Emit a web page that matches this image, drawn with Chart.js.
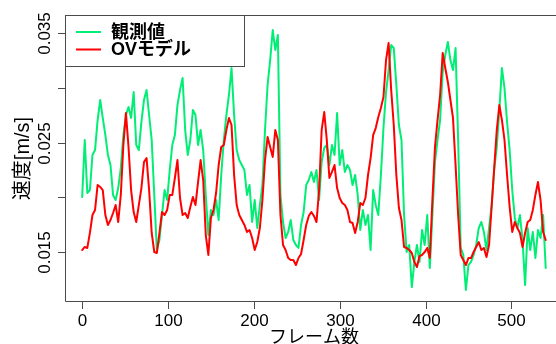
<!DOCTYPE html>
<html><head><meta charset="utf-8">
<script src="https://cdn.jsdelivr.net/npm/chart.js@4"></script>
<style>html,body{margin:0;padding:0;background:#fff;overflow:hidden}#wrap{width:556px;height:344px;position:relative}canvas{display:block}</style>
</head><body><div id="wrap"><canvas id="c" width="556" height="344"></canvas></div>
<script>
// frame numbers (category axis): every 3rd frame, 0..540
const frames = Array.from({length: 181}, (_, i) => i * 3);

// 観測値 (observed speed, m/s)
const observed = [
0.02002,0.02523,0.02039,0.02066,0.02386,0.02431,0.02705,0.02888,0.02724,0.02568,
0.02386,0.02294,0.02021,0.01975,0.02084,0.02267,0.02568,0.02751,0.02824,0.02724,
0.02961,0.02477,0.02431,0.02687,0.02888,0.02979,0.02751,0.02523,0.02021,0.01518,
0.01610,0.01838,0.02066,0.01975,0.02249,0.02477,0.02568,0.02842,0.02979,0.03089,
0.02614,0.02386,0.02523,0.02797,0.02751,0.02477,0.02614,0.02431,0.02021,0.01655,
0.01884,0.01838,0.01975,0.01792,0.02203,0.02523,0.02751,0.02934,0.03180,0.02751,
0.02431,0.02340,0.02294,0.02249,0.02021,0.02112,0.01774,0.01975,0.01719,0.01929,
0.02112,0.02614,0.03025,0.03253,0.03527,0.03345,0.03482,0.02021,0.01774,0.01628,
0.01683,0.01792,0.01610,0.01564,0.01537,0.01747,0.01865,0.02112,0.02157,0.02231,
0.02139,0.02249,0.01975,0.02322,0.02450,0.02477,0.02294,0.02477,0.02386,0.02769,
0.02294,0.02431,0.02231,0.02294,0.02249,0.02112,0.02203,0.02021,0.01701,0.01884,
0.01747,0.01838,0.01518,0.02066,0.01929,0.01838,0.02203,0.02632,0.02961,0.03162,
0.03390,0.03363,0.03025,0.02660,0.02523,0.01838,0.01500,0.01564,0.01180,0.01409,
0.01564,0.01409,0.01701,0.01564,0.01838,0.01354,0.01838,0.02322,0.02523,0.02705,
0.03144,0.03299,0.03418,0.03253,0.03162,0.03363,0.02523,0.01537,0.01473,0.01153,
0.01381,0.01409,0.01473,0.01564,0.01719,0.01774,0.01683,0.01518,0.01719,0.01929,
0.02249,0.02459,0.02797,0.03180,0.02998,0.02687,0.02431,0.02066,0.01811,0.01719,
0.01838,0.01610,0.01199,0.01719,0.01518,0.01683,0.01445,0.01701,0.01628,0.01838,
0.01354
];

// OVモデル (model speed, m/s)
const ovModel = [
0.01518,0.01546,0.01537,0.01674,0.01838,0.01884,0.02112,0.02094,0.02066,0.01838,
0.01747,0.01792,0.01856,0.01929,0.01774,0.02021,0.02477,0.02769,0.02459,0.02066,
0.01865,0.01774,0.01929,0.02084,0.02322,0.02358,0.02066,0.01674,0.01500,0.01491,
0.01674,0.01865,0.01838,0.01884,0.02021,0.02021,0.02176,0.02340,0.01993,0.01838,
0.01856,0.01811,0.01911,0.02002,0.01929,0.02139,0.02340,0.02157,0.01655,0.01473,
0.01811,0.01884,0.02039,0.02294,0.02459,0.02477,0.02614,0.02724,0.02660,0.02203,
0.01929,0.01838,0.01792,0.01747,0.01683,0.01701,0.01628,0.01518,0.01591,0.01719,
0.01975,0.02340,0.02550,0.02459,0.02368,0.02614,0.02523,0.01838,0.01564,0.01518,
0.01445,0.01427,0.01427,0.01381,0.01445,0.01482,0.01610,0.01747,0.01829,0.01865,
0.01829,0.01774,0.02066,0.02614,0.02778,0.02523,0.02176,0.02231,0.02294,0.02084,
0.01993,0.01948,0.01929,0.01884,0.01774,0.01765,0.01674,0.01774,0.01948,0.01929,
0.01993,0.02203,0.02358,0.02568,0.02632,0.02733,0.02815,0.02916,0.03253,0.03409,
0.02979,0.02660,0.02203,0.01902,0.01792,0.01546,0.01537,0.01518,0.01491,0.01409,
0.01363,0.01463,0.01473,0.01500,0.01537,0.01445,0.01975,0.02459,0.02705,0.02934,
0.03317,0.03180,0.03053,0.02888,0.02724,0.02294,0.01838,0.01473,0.01427,0.01381,
0.01445,0.01445,0.01500,0.01546,0.01591,0.01518,0.01537,0.01455,0.01564,0.01911,
0.02267,0.02614,0.02842,0.02705,0.02523,0.02203,0.01911,0.01683,0.01774,0.01719,
0.01674,0.01546,0.01674,0.01774,0.01792,0.01884,0.02021,0.02139,0.01975,0.01683,
0.01610
];

const xTicks = [0, 100, 200, 300, 400, 500];
const xTickLabels = ['0', '100', '200', '300', '400', '500'];
const yTicks = [0.015, 0.020, 0.025, 0.030, 0.035];
const yTickLabels = ['0.015', '', '0.025', '', '0.035'];
const seriesNames = ['観測値', 'OVモデル'];
const seriesColors = ['#00EE76', '#FF0000'];
const xTitle = 'フレーム数';
const yTitle = '速度[m/s]';

const FONT = '"Liberation Sans", Arial, "Noto Sans CJK JP", sans-serif';
const AXIS = '#4a4a4a';

const axesPlugin = {
  id: 'rAxes',
  afterDraw(chart) {
    const ctx = chart.ctx;
    const a = chart.chartArea;
    const xs = chart.scales.x, ys = chart.scales.y;
    ctx.save();
    ctx.strokeStyle = AXIS;
    ctx.lineWidth = 1;
    // plot box (right side is off-canvas)
    ctx.beginPath();
    ctx.moveTo(chart.width + 2, Math.round(a.top) + 0.5);
    ctx.lineTo(Math.round(a.left) + 0.5, Math.round(a.top) + 0.5);
    ctx.lineTo(Math.round(a.left) + 0.5, Math.round(a.bottom) - 0.5);
    ctx.lineTo(chart.width + 2, Math.round(a.bottom) - 0.5);
    ctx.stroke();
    // x ticks
    ctx.fillStyle = '#000';
    ctx.font = '17px ' + FONT;
    ctx.textAlign = 'center';
    ctx.textBaseline = 'alphabetic';
    xTicks.forEach((t, i) => {
      const px = Math.round(xs.getPixelForValue(t)) + 0.5;
      ctx.beginPath();
      ctx.moveTo(px, Math.round(a.bottom) - 0.5);
      ctx.lineTo(px, Math.round(a.bottom) + 7);
      ctx.stroke();
      ctx.fillText(xTickLabels[i], px, 325.5);
    });
    // y ticks
    yTicks.forEach((t, i) => {
      const py = Math.round(ys.getPixelForValue(t)) + 0.5;
      ctx.beginPath();
      ctx.moveTo(Math.round(a.left) + 0.5, py);
      ctx.lineTo(Math.round(a.left) - 7, py);
      ctx.stroke();
      if (yTickLabels[i]) {
        ctx.save();
        ctx.translate(50, py);
        ctx.rotate(-Math.PI / 2);
        ctx.fillText(yTickLabels[i], 0, 0);
        ctx.restore();
      }
    });
    // axis titles
    const cx = (xs.getPixelForValue(-21.6) + xs.getPixelForValue(561.6)) / 2;
    ctx.font = '18px ' + FONT;
    ctx.fillText(xTitle, cx, 343);
    ctx.save();
    ctx.translate(23, (a.top + a.bottom) / 2);
    ctx.rotate(-Math.PI / 2);
    ctx.font = '20px ' + FONT;
    ctx.textBaseline = 'middle';
    ctx.fillText(yTitle, 0, 0);
    ctx.restore();
    // legend
    const lx = Math.round(a.left) + 0.5, ly = Math.round(a.top) + 0.5;
    ctx.fillStyle = '#fff';
    ctx.fillRect(lx, ly, 179, 51);
    ctx.strokeRect(lx, ly, 179, 51);
    const rows = [32, 49.5];
    seriesNames.forEach((n, i) => {
      ctx.strokeStyle = seriesColors[i];
      ctx.lineWidth = 2;
      ctx.beginPath();
      ctx.moveTo(76, rows[i]);
      ctx.lineTo(101, rows[i]);
      ctx.stroke();
      ctx.fillStyle = '#000';
      ctx.font = 'bold 18px ' + FONT;
      ctx.textAlign = 'left';
      ctx.textBaseline = 'middle';
      ctx.fillText(n, 111, rows[i] + 1);
    });
    ctx.restore();
  }
};

const toPts = arr => frames.map((f, i) => ({x: f, y: arr[i]}));

new Chart(document.getElementById('c').getContext('2d'), {
  type: 'line',
  data: {
    datasets: [
      {label: seriesNames[1], data: toPts(ovModel), borderColor: seriesColors[1], borderWidth: 2, pointRadius: 0, order: 1},
      {label: seriesNames[0], data: toPts(observed), borderColor: seriesColors[0], borderWidth: 2, pointRadius: 0, order: 2}
    ]
  },
  options: {
    responsive: false,
    animation: false,
    devicePixelRatio: 1,
    events: [],
    layout: {padding: {left: 65, top: 15, right: 0, bottom: 42}},
    scales: {
      x: {type: 'linear', min: -20, max: 552, display: false},
      y: {type: 'linear', min: 0.010434, max: 0.036644, display: false}
    },
    elements: {line: {tension: 0, borderJoinStyle: 'round', borderCapStyle: 'round'}},
    plugins: {legend: {display: false}, tooltip: {enabled: false}}
  },
  plugins: [axesPlugin]
});
</script>
</body></html>
